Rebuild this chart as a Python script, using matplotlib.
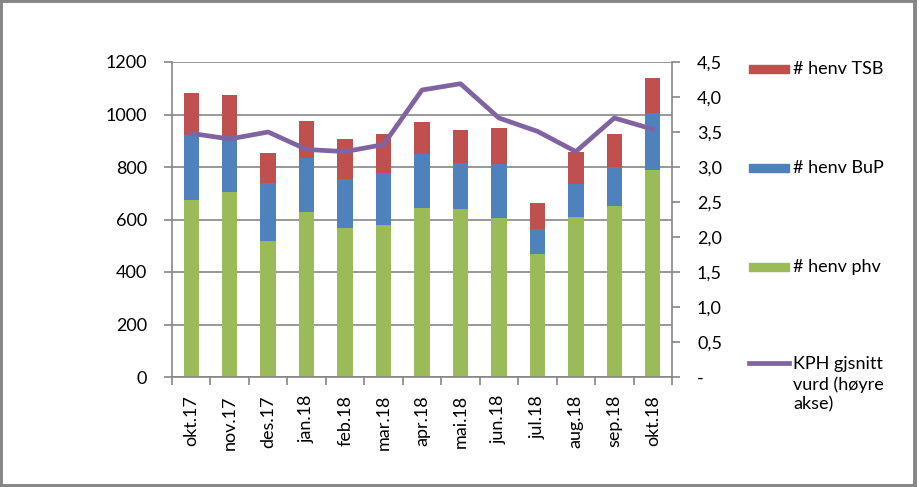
import matplotlib.pyplot as plt
from matplotlib.patches import Rectangle
from matplotlib.lines import Line2D
from matplotlib.ticker import FuncFormatter, FixedLocator
import numpy as np

plt.rcParams['font.family'] = ['Lato', 'DejaVu Sans']

months = ['okt.17', 'nov.17', 'des.17', 'jan.18', 'feb.18', 'mar.18', 'apr.18',
          'mai.18', 'jun.18', 'jul.18', 'aug.18', 'sep.18', 'okt.18']
phv = [674, 705, 519, 629, 568, 580, 644, 640, 607, 470, 611, 653, 790]
bup = [248, 215, 221, 207, 186, 198, 206, 176, 204, 94, 124, 148, 217]
tsb = [161, 154, 113, 141, 153, 148, 121, 125, 138, 99, 123, 125, 132]
kph = [3.48, 3.40, 3.50, 3.25, 3.22, 3.32, 4.10, 4.19, 3.70, 3.51, 3.22, 3.70, 3.54]

c_phv = '#9BBB59'
c_bup = '#4F81BD'
c_tsb = '#C0504D'
c_kph = '#8064A2'
grey = '#868686'

W, H = 919, 487
fig = plt.figure(figsize=(W / 100, H / 100), dpi=100)
ax = fig.add_axes([172 / W, 1 - 377 / H, (672 - 172) / W, (377 - 62) / H])

x = np.arange(len(months))
bw = 0.4
ax.bar(x, phv, bw, color=c_phv, zorder=2)
ax.bar(x, bup, bw, bottom=phv, color=c_bup, zorder=2)
ax.bar(x, tsb, bw, bottom=np.add(phv, bup), color=c_tsb, zorder=2)

ax.set_xlim(-0.5, len(months) - 0.5)
ax.set_ylim(0, 1200)
ax.set_yticks(range(0, 1201, 200))
ax.yaxis.grid(True, color=grey, linewidth=1.2, zorder=0)
ax.set_axisbelow(True)
for s in ['top', 'right']:
    ax.spines[s].set_visible(False)
for s in ['left', 'bottom']:
    ax.spines[s].set_color(grey)
    ax.spines[s].set_linewidth(1.2)

ax.set_xticks(x)
ax.set_xticklabels(months, rotation=90, fontsize=13)
ax.xaxis.set_minor_locator(FixedLocator(np.arange(-0.5, len(months), 1)))
ax.tick_params(axis='x', which='major', length=0, pad=13)
ax.tick_params(axis='x', which='minor', length=6, color=grey, width=1.2)
ax.tick_params(axis='y', length=6, color=grey, width=1.2, labelsize=13, pad=12)

ax2 = ax.twinx()
ax2.plot(x, kph, color=c_kph, linewidth=3.4, solid_joinstyle='round', zorder=3)
ax2.set_ylim(0, 4.5)
ax2.set_yticks(np.arange(0, 4.51, 0.5))
ax2.yaxis.set_major_formatter(FuncFormatter(
    lambda v, p: '-' if abs(v) < 1e-9 else f'{v:.1f}'.replace('.', ',')))
ax2.tick_params(axis='y', length=6, color=grey, width=1.2, labelsize=13, pad=12)
for s in ['top', 'left', 'bottom']:
    ax2.spines[s].set_visible(False)
ax2.spines['right'].set_color(grey)
ax2.spines['right'].set_linewidth(1.2)

# legend on the right, spread over the height like the original
items = [(c_tsb, '# henv TSB', 69), (c_bup, '# henv BuP', 168),
         (c_phv, '# henv phv', 267)]
for col, lab, yp in items:
    fig.patches.append(Rectangle((749 / W, 1 - (yp + 4) / H), 40 / W, 8 / H,
                                 color=col, transform=fig.transFigure))
    fig.text(793 / W, 1 - yp / H, lab, fontsize=13, va='center', ha='left')
fig.lines.append(Line2D([749 / W, 789 / W], [1 - 363 / H, 1 - 363 / H],
                        color=c_kph, linewidth=3.4, transform=fig.transFigure))
fig.text(793 / W, 1 - 356 / H, 'KPH gjsnitt\nvurd (høyre\nakse)', fontsize=13,
         va='top', ha='left', linespacing=1.3)

# grey frame around the chart
fig.patches.append(Rectangle((0.001, 0.003), 0.995, 0.995, fill=False,
                             edgecolor=grey, linewidth=2.8,
                             transform=fig.transFigure))

fig.savefig('out.png', dpi=100)
